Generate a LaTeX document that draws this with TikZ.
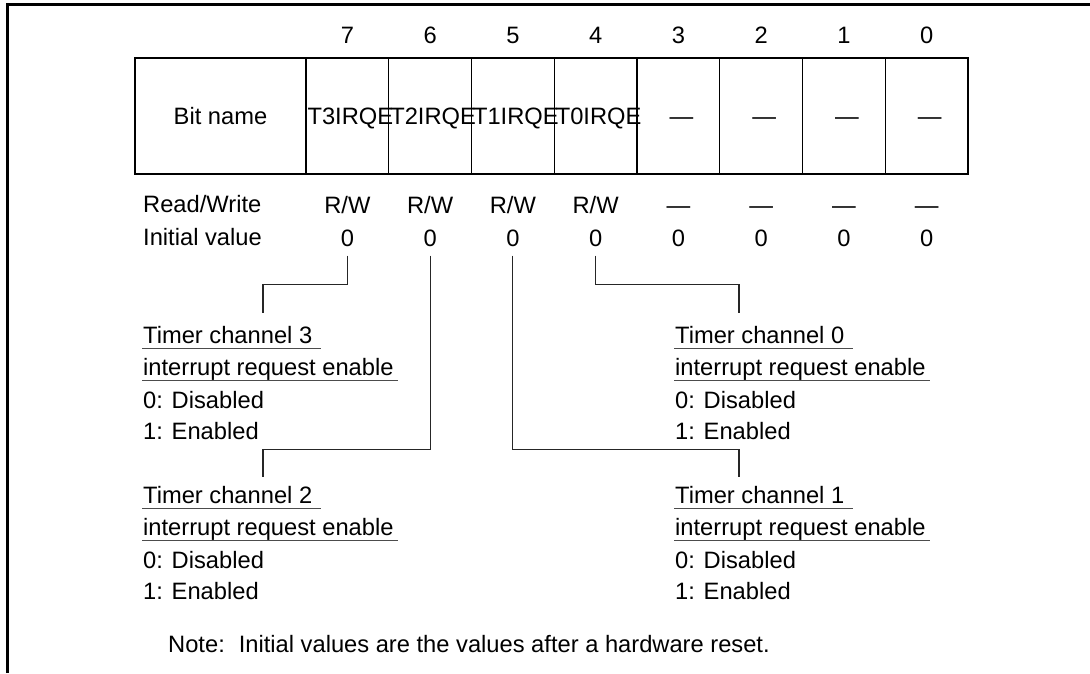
\documentclass[tikz,border=0pt]{standalone}
\usepackage{fontspec}
\setmainfont{Liberation Sans}
\begin{document}
\begin{tikzpicture}[x=1pt,y=-1pt,
  txt/.style={inner sep=0pt, anchor=base west, font=\fontsize{23.7}{28}\selectfont},
  ctxt/.style={inner sep=0pt, anchor=base, font=\fontsize{23.7}{28}\selectfont},
  cellbox/.style={draw, line width=1.3pt, inner sep=0pt, minimum height=116pt},
  conn/.style={line width=1.1pt, black!85},
  uline/.style={line width=1pt, black!70}]
\useasboundingbox (0,0) rectangle (1090,673);
% frame
\draw[line width=3pt] (7.5,673) -- (7.5,4.7) -- (1090,4.7);
% table
\node[cellbox, minimum width=171pt] (bn) at (220.5,116) {};
\node[ctxt] (bnt) at ([yshift=-8.5pt]bn.center) {Bit name};
\foreach \b/\lab/\rw [count=\k from 0] in {7/T3IRQE/R\slash W,6/T2IRQE/R\slash W,5/T1IRQE/R\slash W,4/T0IRQE/R\slash W,3/\textemdash/\textemdash,2/\textemdash/\textemdash,1/\textemdash/\textemdash,0/\textemdash/\textemdash}{
  \node[cellbox, minimum width=82.75pt] (c\b) at (347.375+82.75*\k,116) {};
  \node[ctxt] (l\b) at ([xshift=3pt,yshift=-8.5pt]c\b.center) {\lab};
  \node[ctxt] (n\b) at ([yshift=13.5pt]c\b.north) {\b};
  \node[ctxt] (r\b) at ([yshift=-38.5pt]c\b.south) {\rw};
  \node[ctxt] (i\b) at ([yshift=-71.5pt]c\b.south) {0};
}
\node[txt] (rwl) at (143,212.5) {Read/Write};
\node[txt] (ivl) at (143,245.5) {Initial value};
% description blocks
\node[txt] (t3a) at (143,343.5) {Timer channel 3};
\node[txt] (t3b) at (143,375.5) {interrupt request enable};
\node[txt] (t3c) at (143,408.5) {0: Disabled};
\node[txt] (t3d) at (143,439.5) {1: Enabled};
\node[txt] (t2a) at (143,503.5) {Timer channel 2};
\node[txt] (t2b) at (143,535.5) {interrupt request enable};
\node[txt] (t2c) at (143,568.5) {0: Disabled};
\node[txt] (t2d) at (143,599.5) {1: Enabled};
\node[txt] (t0a) at (675,343.5) {Timer channel 0};
\node[txt] (t0b) at (675,375.5) {interrupt request enable};
\node[txt] (t0c) at (675,408.5) {0: Disabled};
\node[txt] (t0d) at (675,439.5) {1: Enabled};
\node[txt] (t1a) at (675,503.5) {Timer channel 1};
\node[txt] (t1b) at (675,535.5) {interrupt request enable};
\node[txt] (t1c) at (675,568.5) {0: Disabled};
\node[txt] (t1d) at (675,599.5) {1: Enabled};
\foreach \n in {t3,t2,t0,t1}{
  \draw[uline] ([xshift=-1pt,yshift=-4.5pt]\n a.base west) -- ++(179,0);
  \draw[uline] ([xshift=-1pt,yshift=-5pt]\n b.base west) -- ++(256,0);
}
\node[txt] (note) at (168,652.5) {Note:\hspace{14pt}Initial values are the values after a hardware reset.};
% connectors
\coordinate (e7) at (263,313);
\coordinate (e6) at (263,477);
\coordinate (e5) at (739,477);
\coordinate (e4) at (739,313);
\draw[conn] ([yshift=-9.5pt]i7.base) -- ++(0,28.5) -| (e7);
\draw[conn] ([yshift=-9.5pt]i6.base) -- ++(0,194) -| (e6);
\draw[conn] ([yshift=-9.5pt]i5.base) -- ++(0,194) -| (e5);
\draw[conn] ([yshift=-9.5pt]i4.base) -- ++(0,28.5) -| (e4);
\end{tikzpicture}
\end{document}
